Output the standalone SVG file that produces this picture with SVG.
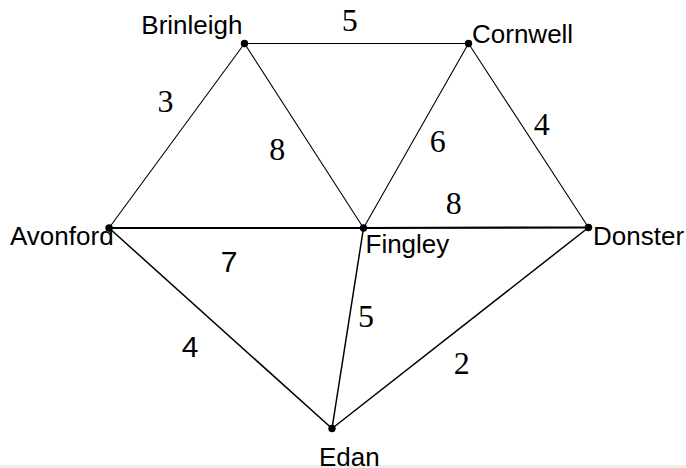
<svg xmlns="http://www.w3.org/2000/svg" width="686" height="468" viewBox="0 0 686 468">
<style>
.e{stroke:#000;fill:none;stroke-linecap:round}
.t{stroke-width:1.1}
.m{stroke-width:1.5}
.h{stroke-width:2.2}
.lbl{font-family:'Liberation Sans',Arial,sans-serif;font-size:26px;fill:#000}
.w{font-family:'Liberation Serif','Times New Roman',serif;font-size:32px;fill:#000;text-anchor:middle}
.ws{font-family:'Liberation Sans',Arial,sans-serif;font-size:30px;fill:#000;text-anchor:middle}
.dot{fill:#000}
</style>
<rect width="686" height="468" fill="#fff"/>
<rect x="0" y="465" width="686" height="3" fill="#efecec"/>
<g id="connectors">
<line class="e t" x1="244.5" y1="43.5" x2="468.5" y2="43.5"/>
<line class="e t" x1="244.5" y1="43.5" x2="109" y2="228"/>
<line class="e t" x1="244.5" y1="43.5" x2="363.5" y2="228"/>
<line class="e t" x1="468.5" y1="43.5" x2="363.5" y2="228"/>
<line class="e t" x1="468.5" y1="43.5" x2="588.5" y2="227.5"/>
<line class="e h" x1="109" y1="228" x2="363.5" y2="228"/>
<line class="e h" x1="363.5" y1="228" x2="588.5" y2="227.5"/>
<line class="e m" x1="109" y1="228" x2="332" y2="428.5"/>
<line class="e m" x1="363.5" y1="228" x2="332" y2="428.5"/>
<line class="e m" x1="588.5" y1="227.5" x2="332" y2="428.5"/>
<g font-family="Liberation Serif, serif">
<text class="w" x="349.7" y="31">5</text>
<text class="w" x="165.5" y="112">3</text>
<text class="w" x="277.3" y="160">8</text>
<text class="w" x="437.8" y="151.7">6</text>
<text class="w" x="541.7" y="135">4</text>
<text class="w" x="453.7" y="214">8</text>
<text class="w" x="366" y="326.7">5</text>
<text class="w" x="461.8" y="374.3">2</text>
</g>
<text class="ws" x="229" y="272">7</text>
<text class="ws" x="190" y="357.3">4</text>
</g>
<g id="Brinleigh"><circle class="dot" cx="244.5" cy="43.5" r="3.7"/><text class="lbl" x="242.5" y="34" text-anchor="end">Brinleigh</text></g>
<g id="Cornwell"><circle class="dot" cx="468.5" cy="43.5" r="3.7"/><text class="lbl" x="472" y="43">Cornwell</text></g>
<g id="Avonford"><circle class="dot" cx="109" cy="228" r="3.7"/><text class="lbl" x="10" y="245">Avonford</text></g>
<g id="Fingley"><circle class="dot" cx="363.5" cy="228" r="3.7"/><text class="lbl" x="365.5" y="252.7">Fingley</text></g>
<g id="Donster"><circle class="dot" cx="588.5" cy="227.5" r="3.7"/><text class="lbl" x="593" y="245">Donster</text></g>
<g id="Edan"><circle class="dot" cx="332" cy="428.5" r="3.7"/><text class="lbl" x="319" y="465.5">Edan</text></g>
</svg>
